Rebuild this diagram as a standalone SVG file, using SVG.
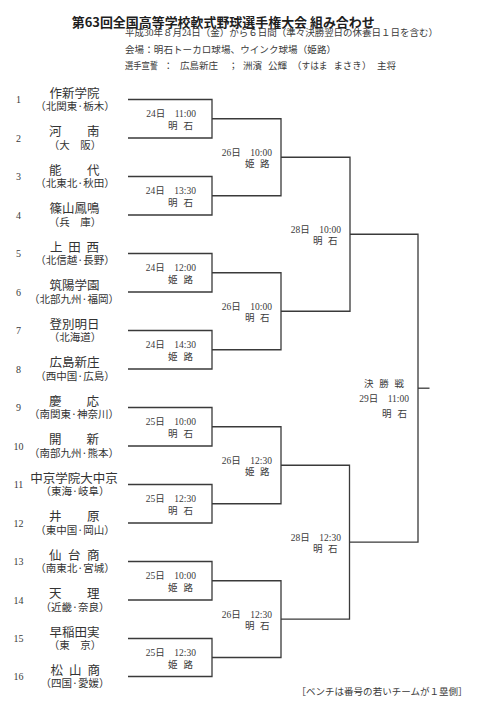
<svg xmlns="http://www.w3.org/2000/svg" width="480" height="715" viewBox="0 0 480 715">
<style>
.bg{fill:#ffffff}
.ln{fill:none;stroke:#3a3a3a;stroke-width:1.3}
.title{font-family:"Noto Sans CJK JP","Noto Sans CJK SC",sans-serif;font-size:13px;font-weight:700;fill:#1e1e1e}
.hd{font-family:"Liberation Serif","Noto Sans CJK JP",serif;font-size:9.5px;fill:#3a3a3a}
.num{font-family:"Liberation Serif",serif;font-size:10px;fill:#3a3a3a;text-anchor:middle}
.nm{font-family:"Noto Sans CJK JP","Noto Sans CJK SC",sans-serif;font-size:12.5px;fill:#333}
.nmc{text-anchor:middle}
.sub{font-family:"Noto Sans CJK JP","Noto Sans CJK SC",sans-serif;font-size:10.5px;fill:#333;text-anchor:middle}
.dt{font-family:"Liberation Serif","Noto Sans CJK JP",serif;font-size:9.5px;fill:#3a3a3a;text-anchor:end}
.vn{font-family:"Noto Sans CJK JP","Noto Sans CJK SC",sans-serif;font-size:9.5px;fill:#3a3a3a}
</style>
<rect class="bg" x="0" y="0" width="480" height="715"/>

<g id="header">
<text class="title" x="71.7" y="26.5" textLength="303" lengthAdjust="spacingAndGlyphs">第63回全国高等学校軟式野球選手権大会 組み合わせ</text>
<text class="hd" x="125" y="36" textLength="313" lengthAdjust="spacing">平成30年８月24日（金）から６日間（準々決勝翌日の休養日１日を含む）</text>
<text class="hd" x="125" y="52.5" textLength="211" lengthAdjust="spacing">会場：明石トーカロ球場、ウインク球場（姫路）</text>
<text class="hd" y="68.5"><tspan x="125" textLength="33" lengthAdjust="spacingAndGlyphs">選手宣誓</tspan><tspan x="163.5">：</tspan><tspan x="180">広島新庄</tspan><tspan x="228.5">；</tspan><tspan x="243">洲濱</tspan><tspan x="268">公輝</tspan><tspan x="292">（</tspan><tspan x="301.5" textLength="26" lengthAdjust="spacingAndGlyphs">すはま</tspan><tspan x="333.5" textLength="28" lengthAdjust="spacingAndGlyphs">まさき</tspan><tspan x="362">）</tspan><tspan x="377">主将</tspan></text>
</g>

<g id="connectors">
<path class="ln" d="M128 99.5H212V138H128"/>
<path class="ln" d="M128 176.5H212V215H128"/>
<path class="ln" d="M128 253.5H212V292H128"/>
<path class="ln" d="M128 330.5H212V369H128"/>
<path class="ln" d="M128 407.5H212V446H128"/>
<path class="ln" d="M128 484.5H212V523H128"/>
<path class="ln" d="M128 561.5H212V600H128"/>
<path class="ln" d="M128 638.5H212V676.5H128"/>
<path class="ln" d="M212 118.75H281V195.75H212"/>
<path class="ln" d="M212 272.75H281V349.75H212"/>
<path class="ln" d="M212 426.75H281V503.75H212"/>
<path class="ln" d="M212 580.75H281V657.5H212"/>
<path class="ln" d="M281 157.25H350V311.25H281"/>
<path class="ln" d="M281 465.25H349.5V619.1H281"/>
<path class="ln" d="M350 234.25H418V542.2H349.5"/>
<path class="ln" d="M418 388.2H429.5"/>
</g>

<g id="team-1"><text class="num" x="18.5" y="103">1</text><text class="nm nmc" x="74.5" y="97.5">作新学院</text><text class="sub" x="75" y="110.3">（北関東·栃木）</text></g>
<g id="team-2"><text class="num" x="18.5" y="141.5">2</text><text class="nm" x="49 87" y="136">河南</text><text class="sub" x="75" y="148.8">（大　阪）</text></g>
<g id="team-3"><text class="num" x="18.5" y="180">3</text><text class="nm" x="49 87" y="174.5">能代</text><text class="sub" x="75" y="187.3">（北東北·秋田）</text></g>
<g id="team-4"><text class="num" x="18.5" y="218.5">4</text><text class="nm nmc" x="74.5" y="213">篠山鳳鳴</text><text class="sub" x="75" y="225.8">（兵　庫）</text></g>
<g id="team-5"><text class="num" x="18.5" y="257">5</text><text class="nm" x="50 68.3 86.5" y="251.5">上田西</text><text class="sub" x="75" y="264.3">（北信越·長野）</text></g>
<g id="team-6"><text class="num" x="18.5" y="295.5">6</text><text class="nm nmc" x="74.5" y="290">筑陽学園</text><text class="sub" x="74" y="302.8">（北部九州·福岡）</text></g>
<g id="team-7"><text class="num" x="18.5" y="334">7</text><text class="nm nmc" x="74.5" y="328.5">登別明日</text><text class="sub" x="75" y="341.3">（北海道）</text></g>
<g id="team-8"><text class="num" x="18.5" y="372.5">8</text><text class="nm nmc" x="74.5" y="367">広島新庄</text><text class="sub" x="75" y="379.8">（西中国·広島）</text></g>
<g id="team-9"><text class="num" x="18.5" y="411">9</text><text class="nm" x="49 86.5" y="405.5">慶応</text><text class="sub" x="74" y="418.3">（南関東·神奈川）</text></g>
<g id="team-10"><text class="num" x="18.5" y="449.5">10</text><text class="nm" x="49 86.5" y="444">開新</text><text class="sub" x="74" y="456.8">（南部九州·熊本）</text></g>
<g id="team-11"><text class="num" x="18.5" y="488">11</text><text class="nm nmc" x="74" y="482.5">中京学院大中京</text><text class="sub" x="75" y="495.3">（東海·岐阜）</text></g>
<g id="team-12"><text class="num" x="18.5" y="526.5">12</text><text class="nm" x="49 87" y="521">井原</text><text class="sub" x="75" y="533.8">（東中国·岡山）</text></g>
<g id="team-13"><text class="num" x="18.5" y="565">13</text><text class="nm" x="49 68 87" y="559.5">仙台商</text><text class="sub" x="75" y="572.3">（南東北·宮城）</text></g>
<g id="team-14"><text class="num" x="18.5" y="603.5">14</text><text class="nm" x="49 87" y="598">天理</text><text class="sub" x="75" y="610.8">（近畿·奈良）</text></g>
<g id="team-15"><text class="num" x="18.5" y="642">15</text><text class="nm nmc" x="74.5" y="636.5">早稲田実</text><text class="sub" x="75" y="649.3">（東　京）</text></g>
<g id="team-16"><text class="num" x="18.5" y="680">16</text><text class="nm" x="50.5 69 87.5" y="674.5">松山商</text><text class="sub" x="75" y="687.3">（四国·愛媛）</text></g>

<g id="r1-m1"><text class="dt" x="196" y="117.25">24日　11:00</text><text class="vn" x="168 183.5" y="128.75">明石</text></g>
<g id="r1-m2"><text class="dt" x="196" y="194.25">24日　13:30</text><text class="vn" x="168 183.5" y="205.75">明石</text></g>
<g id="r1-m3"><text class="dt" x="196" y="271.25">24日　12:00</text><text class="vn" x="168 183.5" y="282.75">姫路</text></g>
<g id="r1-m4"><text class="dt" x="196" y="348.25">24日　14:30</text><text class="vn" x="168 183.5" y="359.75">姫路</text></g>
<g id="r1-m5"><text class="dt" x="196" y="425.25">25日　10:00</text><text class="vn" x="168 183.5" y="436.75">明石</text></g>
<g id="r1-m6"><text class="dt" x="196" y="502.25">25日　12:30</text><text class="vn" x="168 183.5" y="513.75">明石</text></g>
<g id="r1-m7"><text class="dt" x="196" y="579.25">25日　10:00</text><text class="vn" x="168 183.5" y="590.75">姫路</text></g>
<g id="r1-m8"><text class="dt" x="196" y="656">25日　12:30</text><text class="vn" x="168 183.5" y="667.5">姫路</text></g>

<g id="r2-m1"><text class="dt" x="272" y="155.75">26日　10:00</text><text class="vn" x="245 260" y="166.75">姫路</text></g>
<g id="r2-m2"><text class="dt" x="272" y="309.75">26日　10:00</text><text class="vn" x="245 260" y="320.75">明石</text></g>
<g id="r2-m3"><text class="dt" x="272" y="463.75">26日　12:30</text><text class="vn" x="245 260" y="474.75">姫路</text></g>
<g id="r2-m4"><text class="dt" x="272" y="617.6">26日　12:30</text><text class="vn" x="245 260" y="628.6">明石</text></g>

<g id="semi-1"><text class="dt" x="341" y="232.75">28日　10:00</text><text class="vn" x="313 328" y="243.75">明石</text></g>
<g id="semi-2"><text class="dt" x="341" y="540.7">28日　12:30</text><text class="vn" x="313 328" y="551.7">明石</text></g>

<g id="final"><text class="vn" x="364 379.3 394.5" y="387">決勝戦</text><text class="dt" x="409" y="401.5">29日　11:00</text><text class="vn" x="382 397.5" y="417">明石</text></g>

<g id="note"><text class="hd" x="296.5" y="695" textLength="171" lengthAdjust="spacing">［ベンチは番号の若いチームが１塁側］</text></g>
</svg>
